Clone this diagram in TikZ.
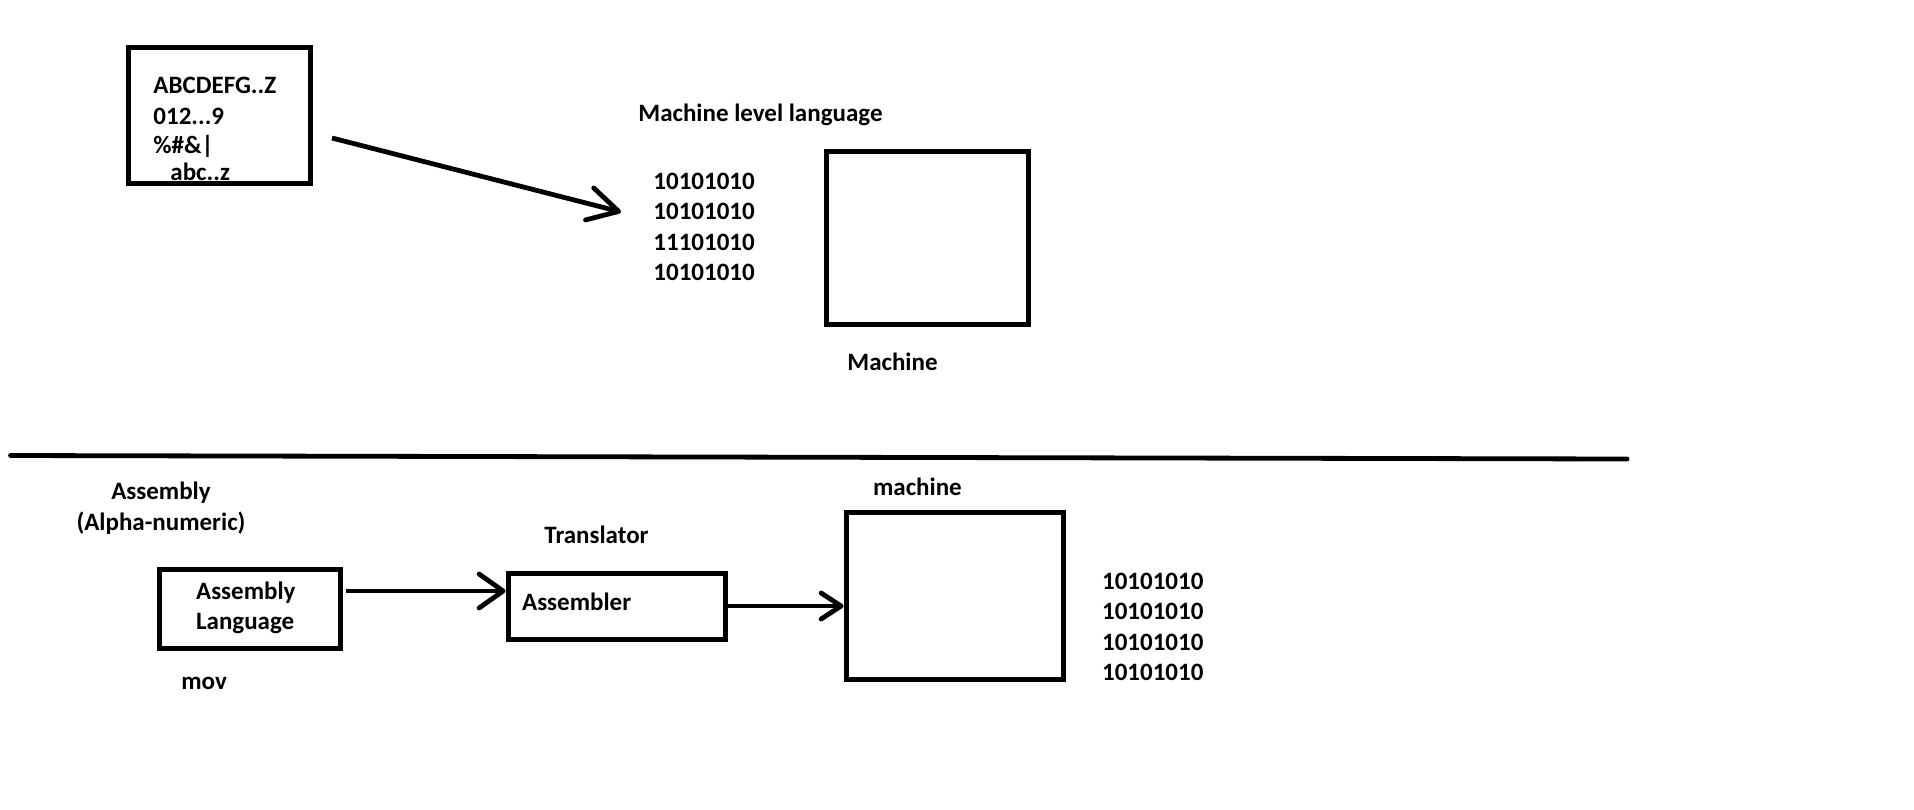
\documentclass[tikz,border=0pt]{standalone}
\usepackage{fontspec}
\setmainfont{Carlito}
\usetikzlibrary{arrows.meta, positioning, calc}

\begin{document}
\begin{tikzpicture}[
    x=0.5pt, y=-0.5pt,
    txt/.style  = {font=\fontsize{12.5}{15.2}\selectfont\bfseries, inner sep=0pt},
    blk/.style  = {draw=black, line width=2.5pt, inner sep=0pt},
    flow/.style = {-{Straight Barb[length=12pt, width=17pt, round]}, line width=2.4pt},
    rule/.style = {line width=2.4pt, line cap=round}
  ]
  \path[use as bounding box, fill=white] (0,0) rectangle (1914,809);

  % --- top half: symbols to machine level language ---
  \node[blk, minimum width=91pt, minimum height=67.75pt] (charset) at (219,115.25) {};
  \node[txt, anchor=north west, align=left, font=\fontsize{12.5}{14.4}\selectfont\bfseries] (chars) at (153,76.7)
    {ABCDEFG..Z\\[1.2pt]012...9\\\%\#\&|\\[-0.8pt]\hspace*{8.5pt}abc..z};

  \node[txt, anchor=base west] (mll) at (638,121.7) {Machine level language};
  \node[txt, anchor=north west, align=left] (topbits) at (653,172.7)
    {10101010\\10101010\\11101010\\10101010};
  \node[blk, minimum width=101pt, minimum height=86.5pt] (mach) at (927.5,238) {};
  \node[txt, anchor=base west] (machlbl) at (847,370) {Machine};

  \coordinate (charsout) at (332,138);
  \coordinate (bitsin) at (621,212);
  \draw[flow, -{Straight Barb[length=15pt, width=16.5pt, round]}] (charsout) -- (bitsin);

  % --- divider ---
  \coordinate (divL) at (10.5,455.5);
  \coordinate (divR) at (1627,459);
  \draw[rule] (divL) -- (divR);

  % --- bottom half: assembly through the translator ---
  \node[txt, align=center, anchor=north] (asmkind) at (161,481.5) {Assembly\\[0.4pt](Alpha-numeric)};

  \node[blk, minimum width=90.5pt, minimum height=39.5pt] (asmlang) at (249.5,608.5) {};
  \node[txt, anchor=north west, align=left] (asmtext) at (195.7,581.5) {Assembly\\Language};
  \node[txt, anchor=base west] (movlbl) at (181,689) {mov};

  \node[txt, anchor=base west] (translbl) at (544,543.3) {Translator};
  \node[blk, minimum width=108.5pt, minimum height=33pt] (assembler) at (616.5,606) {};
  \node[txt, anchor=base west] (asmname) at (521.7,610.7) {Assembler};

  \node[txt, anchor=base west] (mach2lbl) at (872.7,495) {machine};
  \node[blk, minimum width=108.5pt, minimum height=83.5pt] (mach2) at (954.5,595.5) {};
  \node[txt, anchor=north west, align=left] (botbits) at (1101.7,572.7)
    {10101010\\10101010\\10101010\\10101010};

  \coordinate (asmout) at ($(asmlang.east)+(3,-17.5)$);
  \draw[flow] (asmout) -- (asmout -| assembler.west);
  \draw[flow, -{Straight Barb[length=10pt, width=13pt, round]}] (assembler.east) -- (assembler.east -| mach2.west);

\end{tikzpicture}
\end{document}
